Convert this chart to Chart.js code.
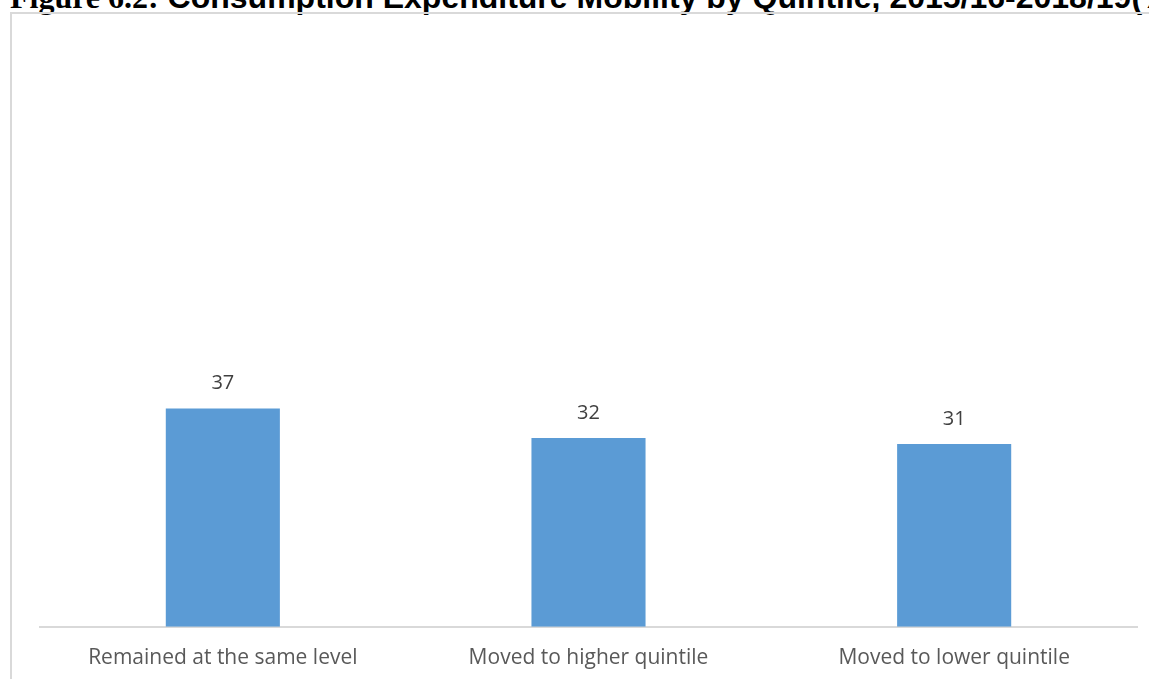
<!DOCTYPE html>
<html>
<head>
<meta charset="utf-8">
<script src="https://cdn.jsdelivr.net/npm/chart.js@4.4.1/dist/chart.umd.min.js"></script>
<style>
  html, body { margin: 0; padding: 0; background: #fff; overflow: hidden; }
  body { width: 1149px; height: 679px; position: relative; }
  .fig-title {
    position: absolute; left: 10px; top: -20px;
    white-space: nowrap; font-size: 32px; font-weight: bold; color: #000;
    font-family: "Liberation Sans", Arial, sans-serif; line-height: 35px;
  }
  .fig-title .lead { font-family: "Liberation Serif", "Times New Roman", serif; }
  .frame {
    position: absolute; left: 10px; top: 12px; width: 1200px; height: 700px;
    border-left: 2px solid #d9d9d9; border-top: 2px solid #d9d9d9;
  }
  .chart-box { position: absolute; left: 0; top: 0; width: 1149px; height: 700px; }
</style>
</head>
<body>
<div class="fig-title"><span class="lead">Figure 6.2:</span> Consumption Expenditure Mobility by Quintile, 2015/16-2018/19(%)</div>
<div class="frame"></div>
<div class="chart-box"><canvas id="mobilityChart"></canvas></div>
<script>
const categories = ["Remained at the same level", "Moved to higher quintile", "Moved to lower quintile"];
const shares = [37, 32, 31];
const yTicks = [0, 100];

// value labels above each bar
const barValueLabels = {
  id: "barValueLabels",
  afterDatasetsDraw(chart) {
    const { ctx } = chart;
    const meta = chart.getDatasetMeta(0);
    ctx.save();
    ctx.font = '20px "Open Sans", sans-serif';
    ctx.fillStyle = "#404040";
    ctx.textAlign = "center";
    ctx.textBaseline = "middle";
    meta.data.forEach((bar, i) => {
      ctx.fillText(String(shares[i]), bar.x, bar.y - 25);
    });
    ctx.restore();
  }
};

document.addEventListener("DOMContentLoaded", () => {
  const ctx = document.getElementById("mobilityChart");
  new Chart(ctx, {
    type: "bar",
    data: {
      labels: categories,
      datasets: [
        {
          data: shares,
          backgroundColor: "#5b9bd5",
          borderWidth: 0,
          categoryPercentage: 1,
          barPercentage: 0.312
        }
      ]
    },
    options: {
      responsive: true,
      maintainAspectRatio: false,
      animation: false,
      layout: { padding: { left: 40, right: 12, top: 37, bottom: 10 } },
      plugins: {
        legend: { display: false },
        tooltip: { enabled: false }
      },
      scales: {
        x: {
          grid: { display: false, drawTicks: false },
          border: { color: "#d9d9d9", width: 2 },
          ticks: {
            color: "#595959",
            padding: 19,
            font: { family: "'Open Sans', sans-serif", size: 21 }
          }
        },
        y: {
          display: false,
          min: yTicks[0],
          max: yTicks[1]
        }
      }
    },
    plugins: [barValueLabels]
  });
});
</script>
</body>
</html>
